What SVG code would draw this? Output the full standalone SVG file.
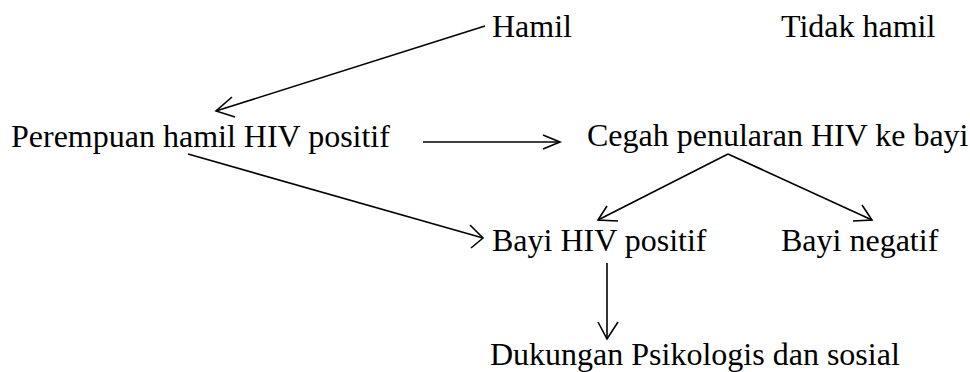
<svg xmlns="http://www.w3.org/2000/svg" width="970" height="372" viewBox="0 0 970 372">
<style>
text{font-family:"Liberation Serif","Times New Roman",serif;font-size:32px;fill:#000}
.c line,.c polyline{stroke:#000;stroke-width:1.6;fill:none}
</style>
<rect width="970" height="372" fill="#fff"/>
<g id="n-hamil"><text x="492" y="37">Hamil</text></g>
<g id="n-tidak"><text x="781" y="37">Tidak hamil</text></g>
<g id="n-perempuan"><text x="11" y="147">Perempuan hamil HIV positif</text></g>
<g id="n-cegah"><text x="587" y="146">Cegah penularan HIV ke bayi</text></g>
<g id="n-bayipos"><text x="492" y="251">Bayi HIV positif</text></g>
<g id="n-bayineg"><text x="781" y="251">Bayi negatif</text></g>
<g id="n-dukungan"><text x="490" y="365">Dukungan Psikologis dan sosial</text></g>
<g class="c" id="connectors">
<line x1="485" y1="26" x2="216" y2="111"/>
<polyline points="232,97 216,111 235,117"/>
<line x1="423" y1="142" x2="560" y2="142"/>
<polyline points="543,135 560,142 543,149"/>
<line x1="188" y1="154" x2="483" y2="238"/>
<polyline points="470,225 483,238 471,248"/>
<line x1="728" y1="154" x2="598" y2="220"/>
<polyline points="607,206 598,220 618,221"/>
<line x1="728" y1="154" x2="872" y2="220"/>
<polyline points="862,205 872,220 853,221"/>
<line x1="607" y1="263" x2="607" y2="339"/>
<polyline points="598,322 607,339 618,322"/>
</g>
</svg>
